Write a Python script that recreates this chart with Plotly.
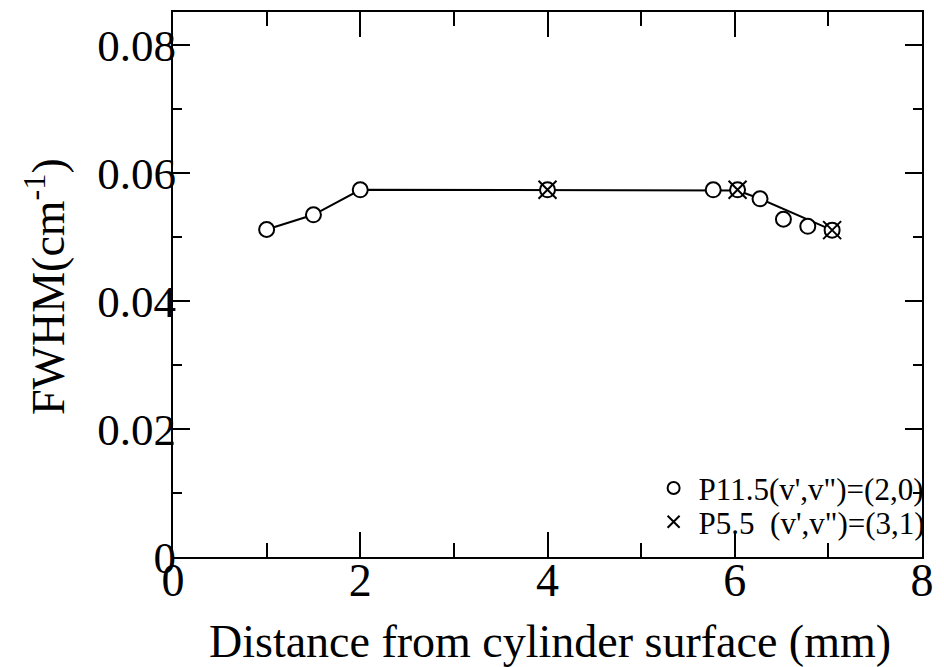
import plotly.graph_objects as go

# data
circle_x = [1.0, 1.5, 2.0, 4.0, 5.77, 6.03, 6.27, 6.52, 6.78, 7.04]
circle_y = [0.0512, 0.0535, 0.0574, 0.0574, 0.0574, 0.0574, 0.0560, 0.0528, 0.0517, 0.0511]
cross_x = [4.0, 6.03, 7.04]
cross_y = [0.0574, 0.0574, 0.0511]
line_x = [1.0, 1.5, 2.0, 4.0, 5.77, 6.03, 6.27, 7.04]
line_y = [0.0512, 0.0535, 0.0574, 0.0573, 0.0573, 0.0573, 0.0560, 0.0511]

x_ticks = [0, 2, 4, 6, 8]
x_ticktext = ["0", "2", "4", "6", "8"]
y_ticks = [0, 0.02, 0.04, 0.06, 0.08]
y_ticktext = ["0", "0.02", "0.04", "0.06", "0.08"]

name_a = "P11.5(v',v\")=(2,0)"
name_b = "P5.5\u00a0\u00a0(v',v\")=(3,1)"
x_title = "Distance from cylinder surface (mm)"
y_title = "FWHM(cm<sup>-1</sup>)"

FONT = "Liberation Serif"

fig = go.Figure()
fig.add_trace(go.Scatter(x=line_x, y=line_y, mode="lines",
                         line=dict(color="black", width=2), showlegend=False,
                         hoverinfo="skip"))
fig.add_trace(go.Scatter(x=circle_x, y=circle_y, mode="markers", name=name_a,
                         legend="legend",
                         marker=dict(symbol="circle", size=15, color="white",
                                     line=dict(color="black", width=2))))
fig.add_trace(go.Scatter(x=cross_x, y=cross_y, mode="markers", name=name_b,
                         legend="legend2",
                         marker=dict(symbol="x-thin-open", size=18, color="black",
                                     line=dict(color="black", width=2))))

axis_common = dict(showline=True, linecolor="black", linewidth=2, mirror="allticks",
                   ticks="inside", tickcolor="black", tickwidth=2, showgrid=False,
                   zeroline=False)

fig.update_xaxes(range=[0, 8], tickvals=x_ticks, ticktext=x_ticktext, ticklen=25,
                 tickfont=dict(family=FONT, size=46, color="black"),
                 ticklabelstandoff=-18,
                 minor=dict(ticks="inside", dtick=1, ticklen=14, tickwidth=2,
                            tickcolor="black", showgrid=False),
                 **axis_common)
fig.update_yaxes(range=[0, 0.0852], tickvals=y_ticks, ticktext=y_ticktext, ticklen=17,
                 tickfont=dict(family=FONT, size=45, color="black"),
                 ticklabelstandoff=-14,
                 minor=dict(ticks="inside", dtick=0.01, ticklen=9, tickwidth=2,
                            tickcolor="black", showgrid=False),
                 **axis_common)

fig.add_annotation(text=x_title, xref="paper", yref="paper", x=0.503, y=-0.155,
                   showarrow=False, xanchor="center", yanchor="middle",
                   font=dict(family=FONT, size=46, color="black"))
fig.add_annotation(text=y_title, xref="paper", yref="paper", x=-0.171, y=0.497,
                   textangle=-90, showarrow=False, xanchor="center", yanchor="middle",
                   font=dict(family=FONT, size=46, color="black"))

legend_common = dict(xanchor="left", yanchor="middle", bgcolor="rgba(0,0,0,0)",
                     font=dict(family=FONT, size=31, color="black"),
                     itemsizing="constant", itemwidth=40)

fig.update_layout(
    width=944, height=667,
    margin=dict(l=173, r=12, t=10, b=110),
    paper_bgcolor="white", plot_bgcolor="white",
    legend=dict(x=0.635, y=0.126, **legend_common),
    legend2=dict(x=0.635, y=0.064, **legend_common),
    font=dict(family=FONT, color="black"),
)

fig.write_html("out.html")
